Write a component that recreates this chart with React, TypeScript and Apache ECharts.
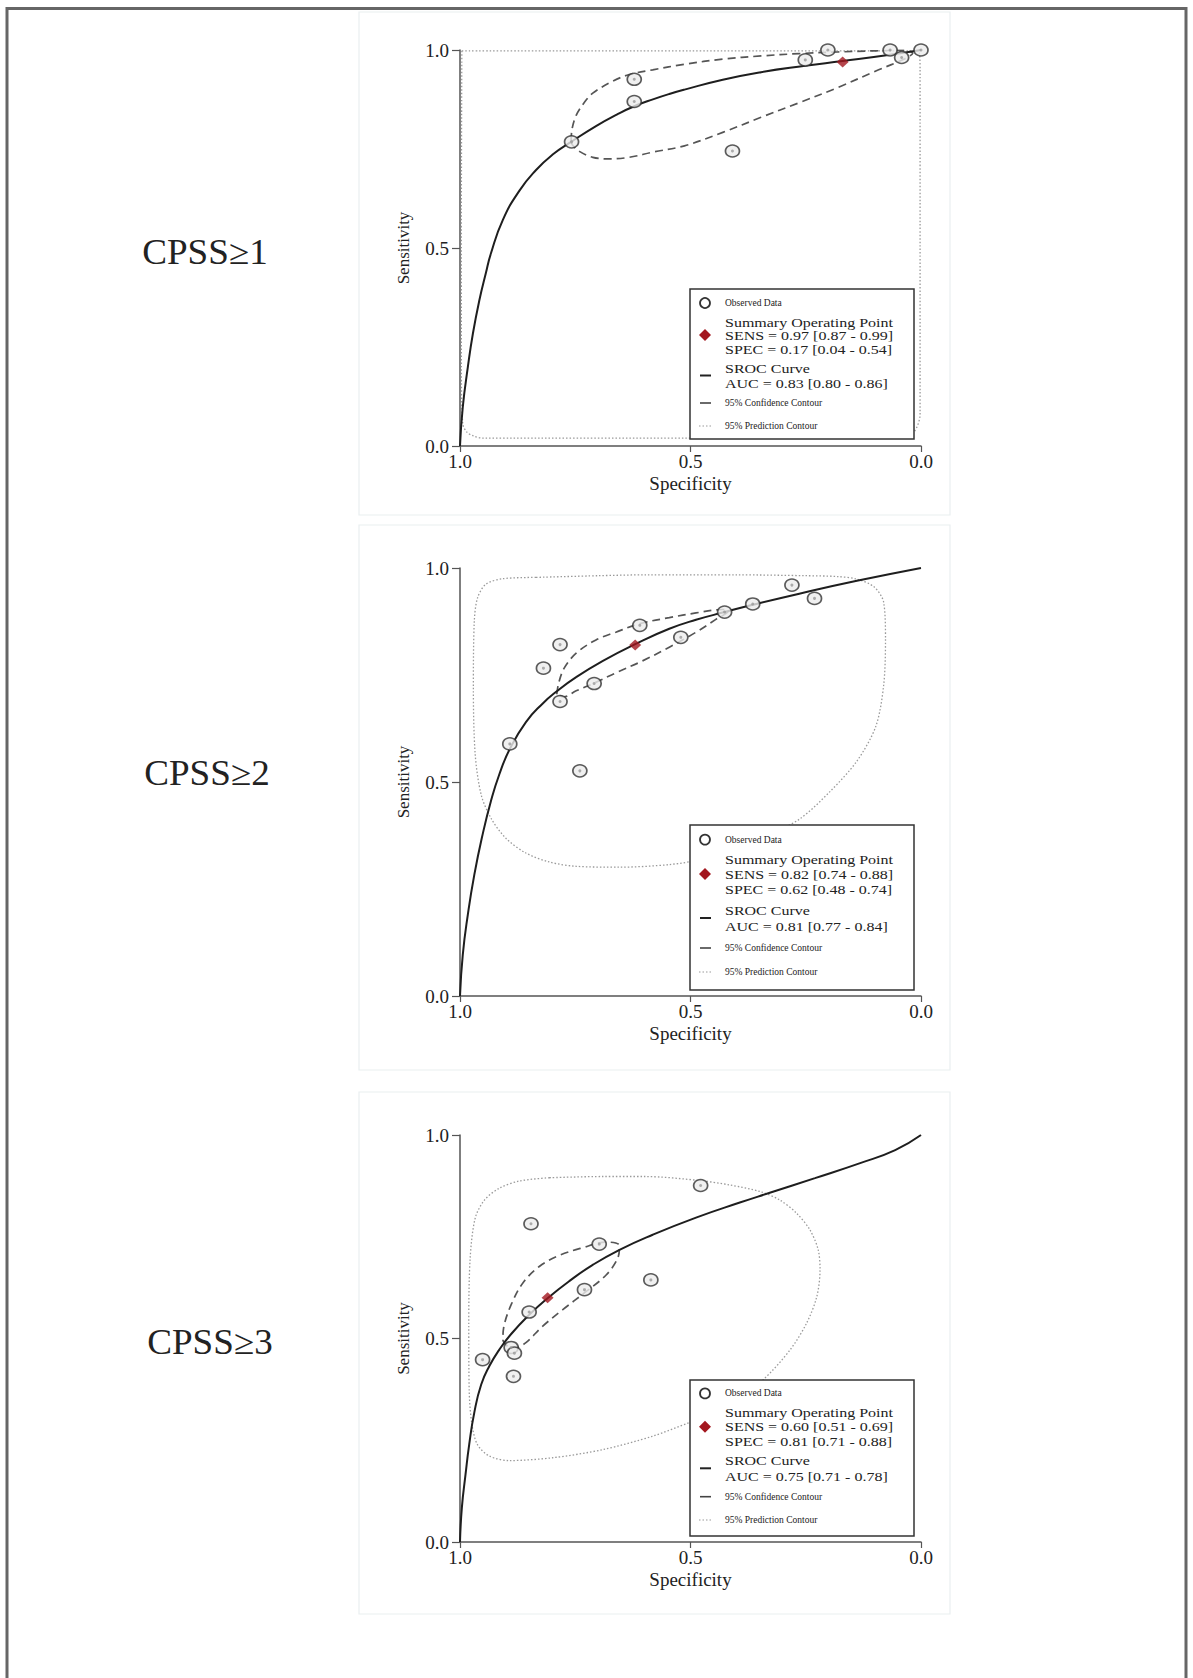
import React, { useEffect, useRef } from "react";
import * as echarts from "echarts";

// ---------- DATA (specificity, sensitivity) ----------
const panelLabels = ["CPSS≥1", "CPSS≥2", "CPSS≥3"];
const tickLabels = ["0.0", "0.5", "1.0"];

const legendSens = ["SENS = 0.97 [0.87 - 0.99]", "SENS = 0.82 [0.74 - 0.88]", "SENS = 0.60 [0.51 - 0.69]"];
const legendSpec = ["SPEC = 0.17 [0.04 - 0.54]", "SPEC = 0.62 [0.48 - 0.74]", "SPEC = 0.81 [0.71 - 0.88]"];
const legendAuc = ["AUC = 0.83 [0.80 - 0.86]", "AUC = 0.81 [0.77 - 0.84]", "AUC = 0.75 [0.71 - 0.78]"];

const p1Observed = [[0.202, 1.0], [0.251, 0.975], [0.067, 1.0], [0.0, 1.0], [0.042, 0.981], [0.622, 0.926], [0.622, 0.870], [0.758, 0.768], [0.409, 0.745]];
const p1Summary = [[0.17, 0.97]];
const p1Sroc = [[1, 0], [0.994, 0.098], [0.983, 0.199], [0.972, 0.284], [0.958, 0.368], [0.944, 0.436], [0.933, 0.486], [0.907, 0.571], [0.871, 0.645], [0.835, 0.697], [0.799, 0.736], [0.759, 0.768], [0.705, 0.808], [0.660, 0.837], [0.622, 0.858], [0.580, 0.876], [0.546, 0.889], [0.513, 0.900], [0.430, 0.925], [0.347, 0.944], [0.251, 0.960], [0.170, 0.972], [0.067, 0.988], [0, 1.0]];
const p1Conf = [[0.759, 0.770], [0.757, 0.800], [0.748, 0.835], [0.730, 0.868], [0.712, 0.891], [0.669, 0.921], [0.633, 0.938], [0.582, 0.950], [0.513, 0.964], [0.430, 0.977], [0.347, 0.985], [0.264, 0.991], [0.181, 0.995], [0.098, 0.998], [0.040, 0.999], [0.018, 0.992], [0.035, 0.978], [0.098, 0.947], [0.181, 0.905], [0.264, 0.867], [0.347, 0.830], [0.430, 0.792], [0.513, 0.758], [0.582, 0.742], [0.633, 0.729], [0.676, 0.725], [0.712, 0.729], [0.741, 0.744], [0.756, 0.760], [0.759, 0.770]];
const p1Pred = [[0.996, 0.998], [0.5, 0.998], [0.006, 0.998], [0.002, 0.95], [0.002, 0.5], [0.002, 0.08], [0.015, 0.036], [0.04, 0.024], [0.1, 0.02], [0.5, 0.02], [0.951, 0.02], [0.97, 0.025], [0.985, 0.035], [0.994, 0.056], [0.997, 0.2], [0.997, 0.6], [0.996, 0.998]];

const p2Observed = [[0.280, 0.960], [0.231, 0.929], [0.365, 0.916], [0.426, 0.897], [0.610, 0.866], [0.521, 0.838], [0.783, 0.821], [0.819, 0.766], [0.709, 0.730], [0.783, 0.688], [0.892, 0.589], [0.740, 0.526]];
const p2Summary = [[0.62, 0.82]];
const p2Sroc = [[1, 0], [0.994, 0.096], [0.983, 0.190], [0.969, 0.283], [0.951, 0.377], [0.933, 0.455], [0.915, 0.517], [0.892, 0.577], [0.857, 0.640], [0.821, 0.683], [0.790, 0.712], [0.748, 0.745], [0.690, 0.783], [0.620, 0.822], [0.546, 0.858], [0.488, 0.879], [0.426, 0.897], [0.365, 0.914], [0.264, 0.940], [0.139, 0.970], [0, 1.0]];
const p2Conf = [[0.790, 0.705], [0.786, 0.731], [0.774, 0.766], [0.748, 0.801], [0.705, 0.832], [0.662, 0.850], [0.610, 0.870], [0.546, 0.884], [0.488, 0.895], [0.430, 0.903], [0.418, 0.900], [0.445, 0.880], [0.488, 0.850], [0.546, 0.815], [0.604, 0.783], [0.662, 0.755], [0.709, 0.731], [0.748, 0.713], [0.775, 0.699], [0.790, 0.705]];
const p2Pred = [[0.835, 0.978], [0.700, 0.982], [0.596, 0.984], [0.400, 0.984], [0.250, 0.982], [0.181, 0.980], [0.139, 0.974], [0.102, 0.956], [0.081, 0.920], [0.077, 0.831], [0.081, 0.726], [0.098, 0.630], [0.139, 0.549], [0.198, 0.477], [0.264, 0.413], [0.347, 0.368], [0.400, 0.342], [0.471, 0.320], [0.546, 0.307], [0.654, 0.301], [0.748, 0.303], [0.806, 0.313], [0.857, 0.334], [0.901, 0.369], [0.933, 0.416], [0.954, 0.470], [0.967, 0.564], [0.971, 0.719], [0.969, 0.875], [0.962, 0.930], [0.944, 0.962], [0.907, 0.975], [0.835, 0.978]];

const p3Observed = [[0.846, 0.782], [0.698, 0.732], [0.586, 0.644], [0.730, 0.620], [0.850, 0.565], [0.889, 0.478], [0.882, 0.464], [0.951, 0.448], [0.884, 0.407], [0.478, 0.876]];
const p3Summary = [[0.81, 0.60]];
const p3Sroc = [[1, 0], [0.996, 0.084], [0.988, 0.166], [0.980, 0.240], [0.969, 0.318], [0.954, 0.387], [0.936, 0.433], [0.915, 0.472], [0.889, 0.511], [0.850, 0.558], [0.810, 0.599], [0.763, 0.641], [0.712, 0.681], [0.654, 0.718], [0.582, 0.755], [0.488, 0.797], [0.393, 0.834], [0.328, 0.858], [0.230, 0.894], [0.132, 0.931], [0.056, 0.963], [0, 1.0]];
const p3Conf = [[0.897, 0.481], [0.907, 0.497], [0.904, 0.534], [0.889, 0.583], [0.864, 0.636], [0.828, 0.677], [0.785, 0.704], [0.734, 0.723], [0.683, 0.737], [0.654, 0.728], [0.658, 0.697], [0.683, 0.656], [0.727, 0.615], [0.777, 0.571], [0.821, 0.530], [0.857, 0.490], [0.882, 0.476], [0.897, 0.481]];
const p3Pred = [[0.806, 0.895], [0.690, 0.898], [0.600, 0.898], [0.479, 0.888], [0.414, 0.877], [0.349, 0.861], [0.306, 0.840], [0.270, 0.808], [0.241, 0.767], [0.223, 0.718], [0.219, 0.669], [0.226, 0.603], [0.248, 0.538], [0.284, 0.472], [0.342, 0.399], [0.400, 0.350], [0.450, 0.315], [0.503, 0.293], [0.582, 0.260], [0.690, 0.227], [0.799, 0.207], [0.893, 0.200], [0.936, 0.211], [0.962, 0.239], [0.974, 0.288], [0.980, 0.370], [0.981, 0.534], [0.978, 0.697], [0.967, 0.796], [0.947, 0.840], [0.915, 0.869], [0.871, 0.887], [0.806, 0.895]];

const observedSets = [p1Observed, p2Observed, p3Observed];
const summarySets = [p1Summary, p2Summary, p3Summary];
const srocSets = [p1Sroc, p2Sroc, p3Sroc];
const confSets = [p1Conf, p2Conf, p3Conf];
const predSets = [p1Pred, p2Pred, p3Pred];

// ---------- LAYOUT ----------
const FONT = "'Liberation Serif', 'Times New Roman', serif";
const GRID_LEFT = 460;
const GRID_WIDTH = 461;
const gridTops = [50, 568, 1135];
const gridHeights = [396, 428, 407];
const frameBoxes = [[359, 12, 591, 503], [359, 525, 591, 545], [359, 1092, 591, 522]];
const labelPos = [[205, 252], [207, 773], [210, 1342]];
const legendTops = [289, 825, 1380];
const legendHeights = [150, 165, 156];
const legendOffsets = [
  [14, 33, 46, 60, 79, 94, 114, 137],
  [14.6, 34, 49, 64, 85, 101, 123, 147],
  [13.4, 32.3, 46.8, 61.6, 80.6, 96, 116.7, 140],
];

function txt(text: string, x: number, y: number, size: number, scaleX = 1, extra: any = {}) {
  return {
    type: "text",
    z: 102,
    x,
    y,
    scaleX,
    style: {
      text,
      x: 0,
      y: 0,
      fill: "#222",
      font: `${size}px ${FONT}`,
      textAlign: "left",
      textVerticalAlign: "middle",
      ...extra,
    },
  };
}

function legend(i: number) {
  const T = legendTops[i];
  const o = legendOffsets[i];
  const sx = 705;
  const tx = 725;
  const big = 13.5;
  const bigScale = 1.185;
  const srocY = T + (o[4] + o[5]) / 2;
  return [
    { type: "rect", z: 100, shape: { x: 690, y: T, width: 224, height: legendHeights[i] }, style: { fill: "#fff", stroke: "#333", lineWidth: 1.5 } },
    { type: "circle", z: 101, shape: { cx: sx, cy: T + o[0], r: 5 }, style: { fill: "#fff", stroke: "#333", lineWidth: 1.8 } },
    txt("Observed Data", tx, T + o[0], 9.5),
    txt("Summary Operating Point", tx, T + o[1], big, bigScale),
    { type: "polygon", z: 101, shape: { points: [[sx, T + o[2] - 6], [sx + 6, T + o[2]], [sx, T + o[2] + 6], [sx - 6, T + o[2]]] }, style: { fill: "#a3171f" } },
    txt(legendSens[i], tx, T + o[2], big, bigScale),
    txt(legendSpec[i], tx, T + o[3], big, bigScale),
    { type: "line", z: 101, shape: { x1: sx - 5, y1: srocY, x2: sx + 6, y2: srocY }, style: { stroke: "#222", lineWidth: 2 } },
    txt("SROC Curve", tx, T + o[4], big, bigScale),
    txt(legendAuc[i], tx, T + o[5], big, bigScale),
    { type: "line", z: 101, shape: { x1: sx - 5, y1: T + o[6], x2: sx + 6, y2: T + o[6] }, style: { stroke: "#444", lineWidth: 1.6 } },
    txt("95% Confidence Contour", tx, T + o[6], 9.5),
    { type: "line", z: 101, shape: { x1: sx - 6, y1: T + o[7], x2: sx + 8, y2: T + o[7] }, style: { stroke: "#999", lineWidth: 1, lineDash: [1.5, 2] } },
    txt("95% Prediction Contour", tx, T + o[7], 9.5),
  ];
}

function buildOption() {
  const grid: any[] = [];
  const xAxis: any[] = [];
  const yAxis: any[] = [];
  const series: any[] = [];
  const graphic: any[] = [];
  const fmt = (v: number) => tickLabels[Math.round(v * 2)] ?? v.toFixed(1);

  for (let i = 0; i < 3; i++) {
    grid.push({ left: GRID_LEFT, top: gridTops[i], width: GRID_WIDTH, height: gridHeights[i], containLabel: false });
    const axisLine = { show: true, onZero: false, lineStyle: { color: "#555", width: 1.5 } };
    xAxis.push({
      gridIndex: i, type: "value", min: 0, max: 1, interval: 0.5, inverse: true,
      axisLine, axisTick: { show: true, length: 6, lineStyle: { color: "#555", width: 1.2 } },
      axisLabel: { formatter: fmt, fontFamily: FONT, fontSize: 19, color: "#222", margin: 6 },
      splitLine: { show: false },
      name: "Specificity", nameLocation: "middle", nameGap: 28,
      nameTextStyle: { fontFamily: FONT, fontSize: 19, color: "#222" },
    });
    yAxis.push({
      gridIndex: i, type: "value", min: 0, max: 1, interval: 0.5,
      axisLine, axisTick: { show: true, length: 8, lineStyle: { color: "#555", width: 1.2 } },
      axisLabel: { formatter: fmt, fontFamily: FONT, fontSize: 19, color: "#222", margin: 11 },
      splitLine: { show: false },
      name: "Sensitivity", nameLocation: "middle", nameGap: 48,
      nameTextStyle: { fontFamily: FONT, fontSize: 17, color: "#222" },
    });
    const base = { xAxisIndex: i, yAxisIndex: i, silent: true };
    series.push({ ...base, type: "line", data: predSets[i], showSymbol: false, symbol: "none", smooth: 0.3, z: 1,
      lineStyle: { color: "#9a9a9a", width: 1.3, type: [1.5, 2] } });
    series.push({ ...base, type: "line", data: confSets[i], showSymbol: false, symbol: "none", smooth: 0.35, z: 2,
      lineStyle: { color: "#555", width: 1.7, type: [8, 5] } });
    series.push({ ...base, type: "line", data: srocSets[i], showSymbol: false, symbol: "none", smooth: 0.5, z: 3,
      lineStyle: { color: "#1e1e1e", width: 2 } });
    series.push({ ...base, type: "scatter", data: observedSets[i], symbol: "circle", symbolSize: [14, 12], z: 4,
      itemStyle: { color: "#ececec", borderColor: "#333", borderWidth: 1.6 } });
    series.push({ ...base, type: "scatter", data: observedSets[i], symbol: "circle", symbolSize: 3, z: 4,
      itemStyle: { color: "#9a9a9a" } });
    series.push({ ...base, type: "scatter", data: summarySets[i], symbol: "diamond", symbolSize: [12, 11], z: 6,
      itemStyle: { color: "#a3171f" } });

    const fb = frameBoxes[i];
    graphic.push({ type: "rect", z: 0, shape: { x: fb[0], y: fb[1], width: fb[2], height: fb[3] }, style: { fill: "none", stroke: "#e9eff0", lineWidth: 1.2 } });
    graphic.push({
      type: "text", z: 5, x: labelPos[i][0], y: labelPos[i][1], scaleX: 1.06,
      style: { text: panelLabels[i], x: 0, y: 0, font: `35px ${FONT}`, fill: "#222", textAlign: "center", textVerticalAlign: "middle" },
    });
    graphic.push(...legend(i));
  }
  graphic.push({ type: "polyline", z: 0, shape: { points: [[7, 1700], [7, 8.5], [1186, 8.5], [1186, 1700]] }, style: { fill: "none", stroke: "#666", lineWidth: 3 } });

  return { animation: false, backgroundColor: "#fff", grid, xAxis, yAxis, series, graphic };
}

export default function App() {
  const ref = useRef<HTMLDivElement>(null);
  useEffect(() => {
    document.body.style.margin = "0";
    const chart = echarts.init(ref.current!, undefined, { renderer: "svg" });
    chart.setOption(buildOption() as any);
    return () => chart.dispose();
  }, []);
  return <div ref={ref} style={{ width: 1193, height: 1678 }} />;
}
